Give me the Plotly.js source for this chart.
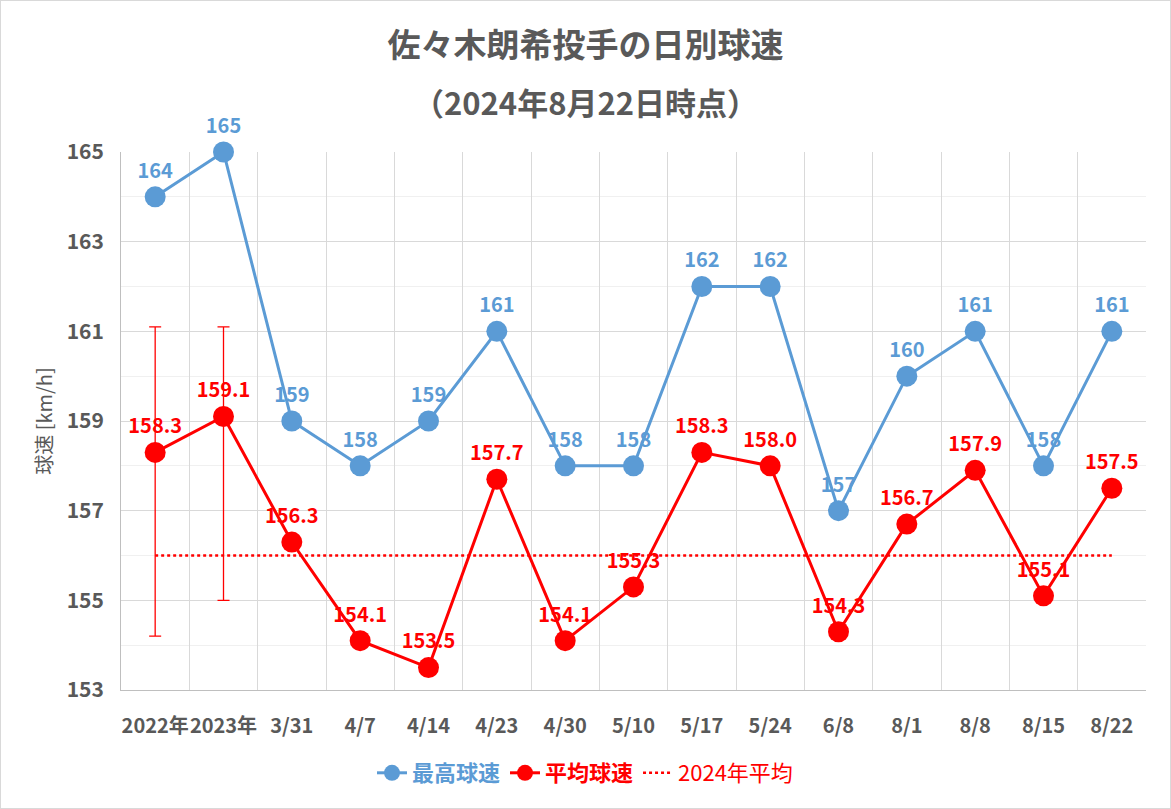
<!DOCTYPE html>
<html>
<head>
<meta charset="utf-8">
<script src="https://cdn.plot.ly/plotly-3.0.1.min.js"></script>
<style>
  body { margin: 0; background: #fff; }
  #chart { width: 1171px; height: 809px; box-sizing: border-box; border: 1px solid #D9D9D9; }
</style>
</head>
<body>
<div id="chart"></div>
<script>
// game dates (category axis)
const dates = ['2022年', '2023年', '3/31', '4/7', '4/14', '4/23', '4/30', '5/10',
               '5/17', '5/24', '6/8', '8/1', '8/8', '8/15', '8/22'];

// top speed per game [km/h]
const maxSpeed = [164, 165, 159, 158, 159, 161, 158, 158, 162, 162, 157, 160, 161, 158, 161];

// average speed per game [km/h]
const avgSpeed = [158.3, 159.1, 156.3, 154.1, 153.5, 157.7, 154.1, 155.3,
                  158.3, 158.0, 154.3, 156.7, 157.9, 155.1, 157.5];

// season ranges for 2022 / 2023 (error bars)
const rangeDates = ['2022年', '2023年'];
const rangeAvg = [158.3, 159.1];
const rangeHigh = [161.1, 161.1];
const rangeLow = [154.2, 155.0];

// 2024 season average
const avg2024 = 156.0;

const BLUE = '#5B9BD5';
const RED = '#FF0000';
const GREY = '#595959';
const FONT = 'Noto Sans CJK JP, Noto Sans, sans-serif';

const traces = [
  {
    // error bars only
    x: rangeDates,
    y: rangeAvg,
    type: 'scatter',
    mode: 'markers',
    marker: { size: 1, color: RED, opacity: 0 },
    error_y: {
      type: 'data',
      symmetric: false,
      array: rangeHigh.map((h, i) => +(h - rangeAvg[i]).toFixed(2)),
      arrayminus: rangeLow.map((l, i) => +(rangeAvg[i] - l).toFixed(2)),
      color: RED,
      thickness: 1.3,
      width: 6
    },
    showlegend: false,
    hoverinfo: 'skip'
  },
  {
    x: dates,
    y: maxSpeed,
    type: 'scatter',
    mode: 'lines+markers+text',
    line: { color: BLUE, width: 3 },
    marker: { color: BLUE, size: 21 },
    text: maxSpeed.map(String),
    textposition: 'top center',
    textfont: { family: FONT, size: 20, color: BLUE, weight: 'bold' },
    cliponaxis: false
  },
  {
    x: dates,
    y: avgSpeed,
    type: 'scatter',
    mode: 'lines+markers+text',
    line: { color: RED, width: 3 },
    marker: { color: RED, size: 21 },
    text: avgSpeed.map(v => v.toFixed(1)),
    textposition: 'top center',
    textfont: { family: FONT, size: 20, color: RED, weight: 'bold' },
    cliponaxis: false
  },
  {
    x: [dates[0], dates[dates.length - 1]],
    y: [avg2024, avg2024],
    type: 'scatter',
    mode: 'lines',
    line: { color: RED, width: 2.5, dash: 'dot' },
    hoverinfo: 'skip'
  }
];

// legend label colours follow their series
traces[1].name = '<span style="color:' + BLUE + '"><b>最高球速</b></span>';
traces[2].name = '<span style="color:' + RED + '"><b>平均球速</b></span>';
traces[3].name = '<span style="color:' + RED + '">2024年平均</span>';

const plotL = 120, plotR = 24;
const plotW = 1169 - plotL - plotR;
const plotH = 807 - 151 - 118;
const centreX = (584 - plotL) / plotW;

const layout = {
  width: 1169,
  height: 807,
  paper_bgcolor: '#fff',
  plot_bgcolor: '#fff',
  font: { family: FONT, color: GREY },
  margin: { t: 151, r: plotR, b: 118, l: plotL },
  title: {
    text: '<b>佐々木朗希投手の日別球速</b>',
    font: { family: FONT, size: 33, color: GREY },
    x: 0.5, xanchor: 'center',
    y: 1 - 44 / 807, yanchor: 'middle'
  },
  annotations: [{
    text: '<b>（2024年8月22日時点）</b>',
    xref: 'paper', yref: 'paper',
    x: centreX, y: 1 + (151 - 100) / plotH,
    xanchor: 'center', yanchor: 'middle',
    showarrow: false,
    font: { family: FONT, size: 31, color: GREY }
  }],
  xaxis: {
    type: 'category',
    tickson: 'boundaries',
    showgrid: true,
    gridcolor: '#D9D9D9',
    showline: true,
    linecolor: '#BFBFBF',
    ticks: '',
    tickangle: 0,
    ticklabelstandoff: 18,
    tickfont: { family: FONT, size: 20, color: GREY, weight: 'bold' },
    range: [-0.5, dates.length - 0.5],
    fixedrange: true
  },
  yaxis: {
    range: [153, 165],
    tick0: 153,
    dtick: 2,
    showgrid: true,
    gridcolor: '#D9D9D9',
    minor: { dtick: 1, tick0: 153, showgrid: true, gridcolor: '#F0F0F0' },
    showline: true,
    linecolor: '#BFBFBF',
    zeroline: false,
    ticks: '',
    ticklabelstandoff: 12,
    tickfont: { family: FONT, size: 21, color: GREY, weight: 'bold' },
    title: { text: '球速 [km/h]', font: { family: FONT, size: 20, color: GREY }, standoff: 8 },
    fixedrange: true
  },
  showlegend: true,
  legend: {
    orientation: 'h',
    x: centreX, xanchor: 'center',
    y: -83 / plotH, yanchor: 'middle',
    font: { family: FONT, size: 22, color: GREY },
    itemgap: 60,
    traceorder: 'normal'
  }
};

Plotly.newPlot('chart', traces, layout, { displayModeBar: false, staticPlot: true });
</script>
</body>
</html>
